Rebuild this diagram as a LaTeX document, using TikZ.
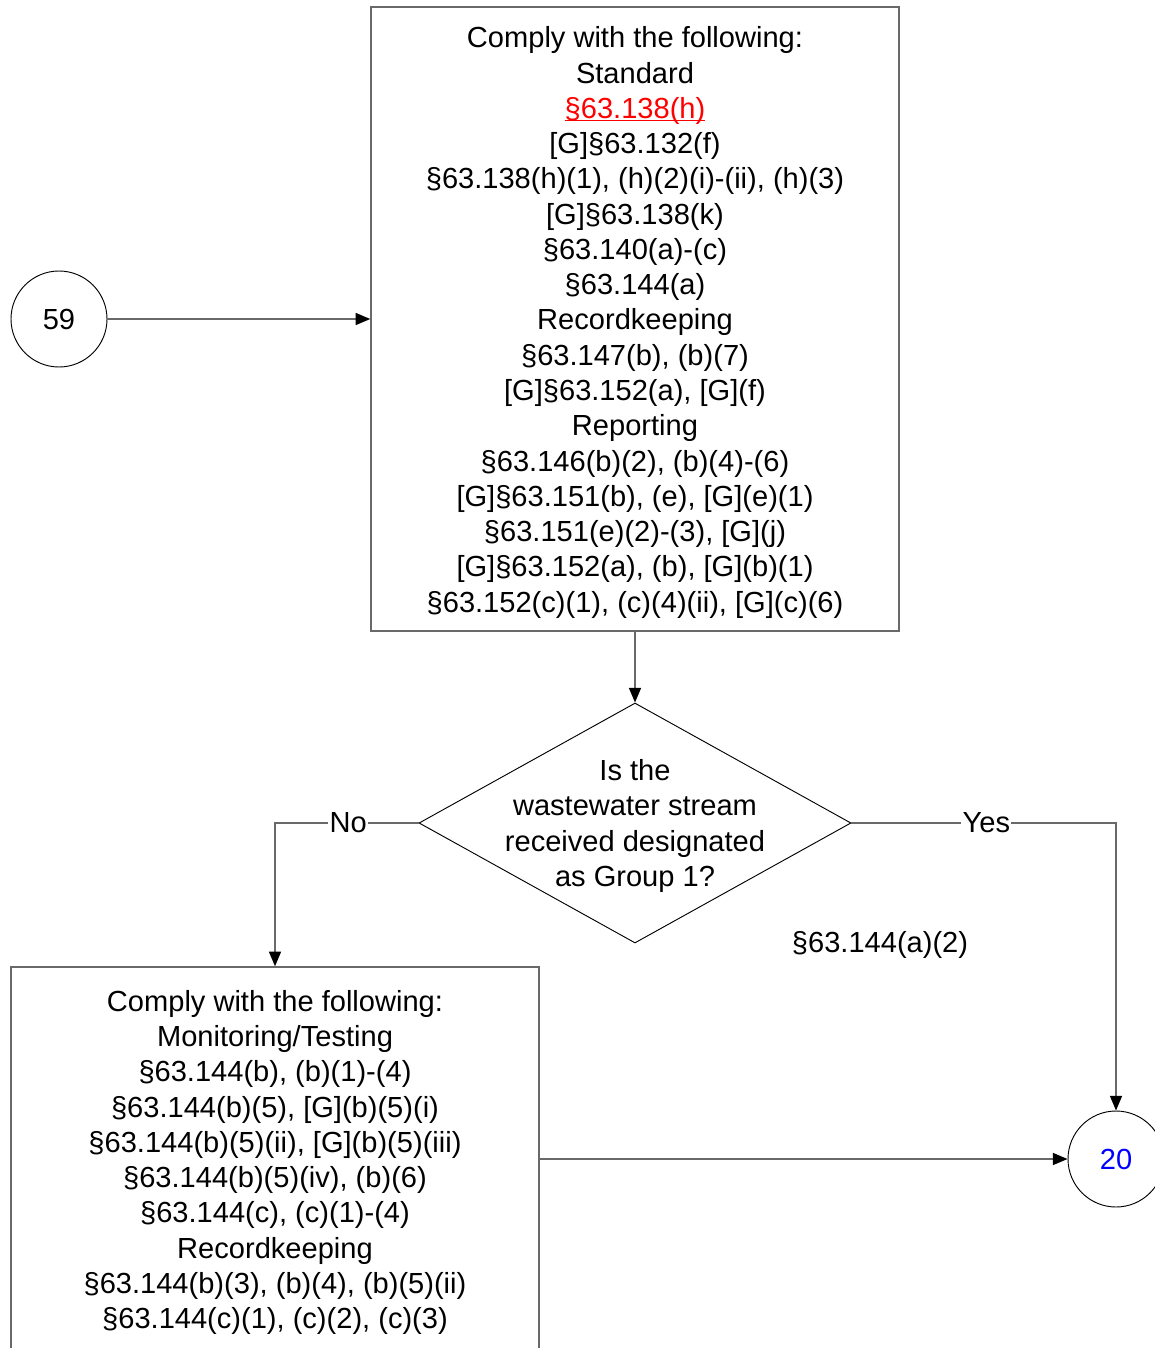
\documentclass[tikz,border=0pt]{standalone}
\usepackage{fontspec}
\setmainfont{Liberation Sans}
\usetikzlibrary{shapes.geometric,arrows.meta}
\definecolor{linegray}{RGB}{105,105,105}
\definecolor{linkred}{RGB}{255,0,0}
\definecolor{linkblue}{RGB}{0,0,255}
\newcommand{\topstrut}{\rule{0pt}{21pt}}
\begin{document}
\begin{tikzpicture}[x=0.75pt,y=-0.75pt,
  txt/.style={font=\fontsize{21.8pt}{26.44pt}\selectfont, align=center},
  box/.style={txt, draw=linegray, line width=1.1pt, rectangle, inner sep=0pt},
  term/.style={txt, draw=black, line width=0.7pt, circle, minimum size=72pt, inner sep=0pt},
  decide/.style={draw=black, line width=0.7pt, diamond, minimum width=324pt, minimum height=180pt, inner sep=0pt},
  conn/.style={draw=linegray, line width=1.1pt, -{Triangle[length=11pt,width=9pt,color=black]}},
  lbl/.style={txt, fill=white, inner sep=1pt}]
\useasboundingbox (0,0) rectangle (1154,1348);

\node[term] (c59) at (59,319) {59};
\node[box, minimum width=396pt, minimum height=468pt] (box1) at (635,319) {%
\topstrut Comply with the following:\\
Standard\\
{\color{linkred}\underline{\smash{§63.138(h)}}}\\
{[G]}§63.132(f)\\
§63.138(h)(1), (h)(2)(i)-(ii), (h)(3)\\
{[G]}§63.138(k)\\
§63.140(a)-(c)\\
§63.144(a)\\
Recordkeeping\\
§63.147(b), (b)(7)\\
{[G]}§63.152(a), [G](f)\\
Reporting\\
§63.146(b)(2), (b)(4)-(6)\\
{[G]}§63.151(b), (e), [G](e)(1)\\
§63.151(e)(2)-(3), [G](j)\\
{[G]}§63.152(a), (b), [G](b)(1)\\
§63.152(c)(1), (c)(4)(ii), [G](c)(6)};

\node[decide] (dia) at (635,823) {};
\node[txt] (diatext) at (635,826) {Is the\\ wastewater stream\\ received designated\\ as Group 1?};

\node[box, minimum width=396pt, minimum height=288pt] (box2) at (275,1159) {%
\topstrut Comply with the following:\\
Monitoring/Testing\\
§63.144(b), (b)(1)-(4)\\
§63.144(b)(5), [G](b)(5)(i)\\
§63.144(b)(5)(ii), [G](b)(5)(iii)\\
§63.144(b)(5)(iv), (b)(6)\\
§63.144(c), (c)(1)-(4)\\
Recordkeeping\\
§63.144(b)(3), (b)(4), (b)(5)(ii)\\
§63.144(c)(1), (c)(2), (c)(3)};

\node[term, text=linkblue] (c20) at (1116,1159) {20};

\node[txt] (note) at (880,945) {§63.144(a)(2)};

\coordinate (nocorner) at (dia.west -| box2.north);
\coordinate (yescorner) at (dia.east -| c20.north);

\draw[conn] (c59) -- (box1);
\draw[conn] (box1.south) -- (dia.north);
\draw[conn] (dia.west) -- node[lbl, pos=0.49] (nolbl) {No} (nocorner) -- (box2.north);
\draw[conn] (dia.east) -- node[lbl, pos=0.51] (yeslbl) {Yes} (yescorner) -- (c20.north);
\draw[conn] (box2.east) -- (c20.west);
\end{tikzpicture}
\end{document}
